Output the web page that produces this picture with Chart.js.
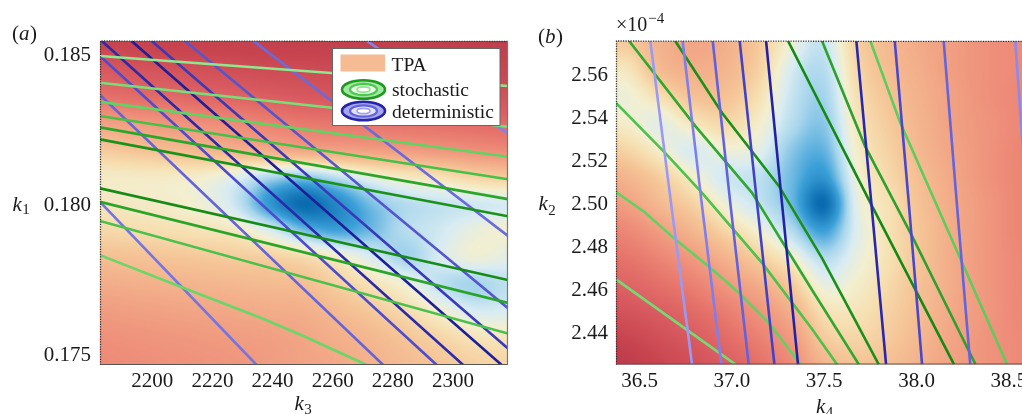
<!DOCTYPE html>
<html><head><meta charset="utf-8">
<script src="https://cdn.jsdelivr.net/npm/chart.js@4.4.1/dist/chart.umd.min.js"></script>
<style>
html,body{margin:0;padding:0;background:#fff;overflow:hidden;width:1022px;height:414px;}
#wa{position:absolute;left:0;top:0;width:520px;height:414px;}
#wb{position:absolute;left:520px;top:0;width:540px;height:414px;}
</style></head><body>
<div id="wa"><canvas id="ca"></canvas></div>
<div id="wb"><canvas id="cb"></canvas></div>
<script>
// ================= Panel (a): k3 vs k1 =================
const A_K3_RANGE = [2182.6, 2318.3];
const A_K1_RANGE = [0.17467, 0.18547];
const A_K3_TICKS = [2200, 2220, 2240, 2260, 2280, 2300];
const A_K1_TICKS = [0.175, 0.180, 0.185];
// TPA density grid (0 = low / red, 1 = peak / deep blue)
const A_HEAT_K3 = [2182.6, 2193.9, 2205.2, 2216.5, 2227.8, 2239.1, 2250.5, 2261.8, 2273.1, 2284.4, 2295.7, 2307.0, 2318.3];
const A_HEAT_K1 = [0.18547, 0.18457, 0.18367, 0.18277, 0.18187, 0.18097, 0.18007, 0.17917, 0.17827, 0.17737, 0.17647, 0.17557, 0.17467];
const A_HEAT = [
  [0.10,0.10,0.09,0.09,0.09,0.08,0.08,0.08,0.07,0.07,0.07,0.07,0.07],
  [0.20,0.18,0.17,0.16,0.15,0.14,0.14,0.13,0.12,0.12,0.11,0.11,0.11],
  [0.30,0.28,0.27,0.25,0.24,0.22,0.20,0.19,0.18,0.18,0.17,0.17,0.17],
  [0.47,0.45,0.43,0.41,0.39,0.36,0.33,0.32,0.31,0.30,0.29,0.28,0.27],
  [0.60,0.58,0.56,0.54,0.52,0.50,0.48,0.47,0.46,0.45,0.43,0.41,0.39],
  [0.69,0.69,0.69,0.70,0.74,0.80,0.83,0.78,0.72,0.68,0.66,0.62,0.60],
  [0.68,0.69,0.70,0.72,0.78,0.92,1.00,0.94,0.85,0.80,0.78,0.77,0.76],
  [0.64,0.65,0.66,0.67,0.69,0.76,0.86,0.90,0.86,0.80,0.77,0.73,0.71],
  [0.57,0.58,0.59,0.60,0.61,0.62,0.65,0.70,0.76,0.82,0.76,0.72,0.74],
  [0.51,0.52,0.53,0.54,0.55,0.56,0.57,0.62,0.67,0.72,0.79,0.82,0.79],
  [0.46,0.47,0.48,0.49,0.50,0.51,0.52,0.56,0.60,0.65,0.71,0.76,0.76],
  [0.42,0.43,0.44,0.45,0.46,0.47,0.49,0.52,0.55,0.59,0.63,0.67,0.68],
  [0.40,0.41,0.42,0.43,0.44,0.46,0.48,0.50,0.53,0.56,0.59,0.62,0.63]
];
// contour lines [k3, k1]
const A_STOCHASTIC = [
  [[2182.6,0.18497],[2318.3,0.18397]],
  [[2182.6,0.18408],[2318.3,0.18261]],
  [[2182.6,0.18344],[2318.3,0.18161]],
  [[2182.6,0.18297],[2318.3,0.18086]],
  [[2182.6,0.18259],[2318.3,0.18020]],
  [[2182.6,0.18219],[2318.3,0.17963]],
  [[2182.6,0.18056],[2318.3,0.17750]],
  [[2182.6,0.18011],[2318.3,0.17674]],
  [[2182.6,0.17947],[2318.3,0.17572]],
  [[2182.6,0.17833],[2209.8,0.17726],[2236.4,0.17623],[2250.8,0.17561],[2271.3,0.17467]]
];
const A_DETERMINISTIC = [
  [[2182.6,0.18011],[2234.7,0.17467]],
  [[2182.6,0.18367],[2276.8,0.17467]],
  [[2182.6,0.18497],[2294.6,0.17467]],
  [[2183.2,0.18547],[2303.4,0.17467]],
  [[2193.1,0.18547],[2316.2,0.17467]],
  [[2199.8,0.18547],[2318.3,0.17522]],
  [[2210.9,0.18547],[2318.3,0.17656]],
  [[2233.6,0.18547],[2318.3,0.17897]],
  [[2271.3,0.18547],[2318.3,0.18239]]
];

// ================= Panel (b): k4 vs k2 (x10^-4) =================
const B_K4_RANGE = [36.372, 38.723];
const B_K2_RANGE = [2.4256, 2.5758];
const B_K4_TICKS = [36.5, 37.0, 37.5, 38.0, 38.5];
const B_K2_TICKS = [2.44, 2.46, 2.48, 2.50, 2.52, 2.54, 2.56];
const B_HEAT_K4 = [36.249, 36.428, 36.607, 36.785, 36.964, 37.143, 37.321, 37.500, 37.679, 37.858, 38.036, 38.215, 38.394, 38.572, 38.751];
const B_HEAT_K2 = [2.5752, 2.5627, 2.5502, 2.5376, 2.5251, 2.5125, 2.5000, 2.4875, 2.4749, 2.4624, 2.4498, 2.4373, 2.4248];
const B_HEAT = [
  [0.58,0.60,0.53,0.49,0.52,0.60,0.72,0.78,0.62,0.55,0.50,0.46,0.42,0.40,0.39],
  [0.66,0.68,0.56,0.52,0.54,0.62,0.76,0.80,0.64,0.56,0.51,0.46,0.42,0.40,0.39],
  [0.71,0.72,0.66,0.58,0.58,0.66,0.78,0.82,0.66,0.58,0.52,0.47,0.42,0.39,0.38],
  [0.70,0.70,0.74,0.68,0.64,0.70,0.80,0.84,0.68,0.60,0.53,0.47,0.43,0.39,0.38],
  [0.60,0.63,0.70,0.76,0.72,0.74,0.84,0.87,0.70,0.62,0.54,0.48,0.43,0.38,0.37],
  [0.50,0.54,0.61,0.70,0.77,0.79,0.86,0.92,0.72,0.64,0.56,0.49,0.43,0.38,0.37],
  [0.43,0.47,0.55,0.62,0.72,0.78,0.86,1.00,0.74,0.66,0.57,0.50,0.44,0.38,0.37],
  [0.36,0.39,0.46,0.54,0.63,0.71,0.80,0.90,0.75,0.66,0.58,0.50,0.44,0.38,0.37],
  [0.29,0.32,0.38,0.45,0.53,0.61,0.70,0.80,0.73,0.66,0.58,0.50,0.44,0.39,0.38],
  [0.22,0.25,0.30,0.36,0.44,0.51,0.60,0.73,0.70,0.64,0.57,0.50,0.44,0.39,0.38],
  [0.15,0.18,0.22,0.28,0.35,0.43,0.52,0.66,0.67,0.62,0.56,0.49,0.44,0.39,0.38],
  [0.08,0.11,0.16,0.21,0.28,0.36,0.45,0.60,0.63,0.60,0.54,0.48,0.43,0.40,0.39],
  [0.02,0.05,0.11,0.16,0.22,0.30,0.40,0.54,0.58,0.57,0.52,0.47,0.43,0.40,0.39]
];
// contour lines [k4, k2]
const B_STOCHASTIC = [
  [[36.372,2.4651],[36.766,2.4411],[37.018,2.4257]],
  [[36.372,2.5057],[36.531,2.4961],[36.693,2.4837],[36.892,2.4698],[37.037,2.4589],[37.199,2.4450],[37.371,2.4257]],
  [[36.372,2.5471],[36.638,2.5239],[36.838,2.5053],[37.163,2.4728],[37.434,2.4421],[37.569,2.4257]],
  [[36.443,2.5758],[36.802,2.5363],[37.109,2.5053],[37.434,2.4602],[37.687,2.4257]],
  [[36.693,2.5758],[36.946,2.5425],[37.254,2.5085],[37.488,2.4750],[37.795,2.4257]],
  [[37.304,2.5758],[37.748,2.5010],[38.203,2.4257]],
  [[37.488,2.5758],[37.721,2.5270],[37.976,2.4852],[38.319,2.4257]],
  [[37.750,2.5758],[37.912,2.5378],[38.247,2.4728],[38.490,2.4257]]
];
const B_DETERMINISTIC = [
  [[36.558,2.5758],[36.670,2.5006],[36.784,2.4257]],
  [[36.733,2.5758],[36.836,2.5006],[36.943,2.4257]],
  [[36.896,2.5758],[36.991,2.5006],[37.091,2.4257]],
  [[37.042,2.5758],[37.136,2.5006],[37.230,2.4257]],
  [[37.185,2.5758],[37.271,2.5006],[37.358,2.4257]],
  [[37.674,2.5758],[37.755,2.5006],[37.835,2.4257]],
  [[37.882,2.5758],[37.958,2.5006],[38.030,2.4257]],
  [[38.147,2.5758],[38.218,2.5006],[38.291,2.4257]],
  [[38.535,2.5758],[38.658,2.4257]]
];

// ================= Styles =================
const SERIF = "'Liberation Serif','Times New Roman',Times,serif";
const TEXT = '#1a1a1a';
const A_GREEN = ['#8ee88e','#78de78','#62d262','#48c048','#2aa62a','#1a921a','#168b16','#2aa52a','#4cc04c','#6ad66a'];
const A_BLUE  = ['#7474e2','#6464da','#4c4cce','#2a2aaa','#1e1e9a','#3a3ab8','#5656cc','#6a6adc','#8282ea'];
const B_GREEN = ['#74da74','#62d062','#4cc24c','#30a830','#1a901a','#148a14','#2ea02e','#5ccc5c'];
const B_BLUE  = ['#9a9af5','#7e7eec','#6262de','#4242c6','#2222a8','#2828ac','#4848c8','#6464dc','#8a8aee'];
const CMAP_POS = [0, 0.11, 0.21, 0.31, 0.41, 0.50, 0.59, 0.66, 0.71, 0.76, 0.82, 0.90, 1.00];
const CMAP_COL = ['#b5354a','#c8454f','#d85a60','#e5726a','#ee8d79','#f2a987','#f5c597','#f6e0b2','#f3efd0','#d9ecf2','#a6d5ec','#3ca0d8','#0a6cb0'];

const CMAP_RGB = CMAP_COL.map(h => [parseInt(h.slice(1,3),16), parseInt(h.slice(3,5),16), parseInt(h.slice(5,7),16)]);
function cmap(v) {
  v = Math.max(0, Math.min(1, v));
  let k = 0;
  while (k < CMAP_POS.length - 2 && v > CMAP_POS[k+1]) k++;
  const t = (v - CMAP_POS[k]) / (CMAP_POS[k+1] - CMAP_POS[k]);
  const a = CMAP_RGB[k], b = CMAP_RGB[k+1];
  return [a[0]+(b[0]-a[0])*t, a[1]+(b[1]-a[1])*t, a[2]+(b[2]-a[2])*t];
}
function cr(p0,p1,p2,p3,t){ return p1 + 0.5*t*(p2-p0 + t*(2*p0-5*p1+4*p2-p3 + t*(3*(p1-p2)+p3-p0))); }
function sampleGrid(z, u, v) {
  const R = z.length, C = z[0].length;
  const at = (j,i) => z[Math.max(0,Math.min(R-1,j))][Math.max(0,Math.min(C-1,i))];
  const i = Math.floor(u), fu = u - i, j = Math.floor(v), fv = v - j;
  const r = [];
  for (let m = -1; m <= 2; m++) r.push(cr(at(j+m,i-1), at(j+m,i), at(j+m,i+1), at(j+m,i+2), fu));
  return cr(r[0], r[1], r[2], r[3], fv);
}

function makeHeat(xs, ys, z) {
  let cache = null;
  return { id: 'heat', beforeDatasetsDraw(chart) {
    const {ctx, chartArea: ca, scales} = chart;
    const sx = scales.x, sy = scales.y;
    const x0 = sx.getPixelForValue(xs[0]), x1 = sx.getPixelForValue(xs[xs.length-1]);
    const y0 = sy.getPixelForValue(ys[0]), y1 = sy.getPixelForValue(ys[ys.length-1]);
    const cw = (x1-x0)/(xs.length-1), ch = (y1-y0)/(ys.length-1);
    const L = Math.floor(ca.left), T = Math.floor(ca.top);
    const W = Math.ceil(ca.right) - L, H = Math.ceil(ca.bottom) - T;
    if (!cache || cache.w !== W || cache.h !== H) {
      const off = document.createElement('canvas'); off.width = W; off.height = H;
      const octx = off.getContext('2d'); const img = octx.createImageData(W, H);
      for (let py = 0; py < H; py++) {
        const v = (T + py + 0.5 - y0) / ch;
        for (let px = 0; px < W; px++) {
          const u = (L + px + 0.5 - x0) / cw;
          const c = cmap(sampleGrid(z, u, v));
          const k = (py*W + px) * 4;
          img.data[k] = c[0]; img.data[k+1] = c[1]; img.data[k+2] = c[2]; img.data[k+3] = 255;
        }
      }
      octx.putImageData(img, 0, 0);
      cache = {off, w: W, h: H};
    }
    ctx.save();
    ctx.beginPath(); ctx.rect(ca.left, ca.top, ca.right-ca.left, ca.bottom-ca.top); ctx.clip();
    ctx.drawImage(cache.off, L, T);
    ctx.restore();
  }};
}

function makeFrame(drawRight) {
  return { id: 'frame', afterDatasetsDraw(chart) {
    const {ctx, chartArea: ca} = chart;
    ctx.save();
    ctx.lineWidth = 1.3; ctx.strokeStyle = '#333'; ctx.setLineDash([1.2, 1.3]);
    ctx.beginPath(); ctx.moveTo(ca.left + 0.5, ca.bottom); ctx.lineTo(ca.left + 0.5, ca.top); ctx.lineTo(ca.right, ca.top + 0.5); ctx.stroke();
    ctx.setLineDash([]); ctx.lineWidth = 1.2; ctx.strokeStyle = '#555';
    ctx.beginPath(); ctx.moveTo(ca.left, ca.bottom - 0.5); ctx.lineTo(ca.right, ca.bottom - 0.5); ctx.stroke();
    if (drawRight) { ctx.strokeStyle = '#777'; ctx.beginPath(); ctx.moveTo(ca.right - 0.5, ca.top); ctx.lineTo(ca.right - 0.5, ca.bottom); ctx.stroke(); }
    ctx.restore();
  }};
}

function drawK(ctx, x, base, sub, subDy) {
  ctx.fillStyle = TEXT; ctx.textAlign = 'left'; ctx.textBaseline = 'alphabetic';
  ctx.font = 'italic 21px ' + SERIF; ctx.fillText('k', x, base);
  const w = ctx.measureText('k').width;
  ctx.font = '15px ' + SERIF; ctx.fillText(sub, x + w + 0.5, base + subDy);
}
function drawPanelLabel(ctx, x, base, letter) {
  ctx.fillStyle = TEXT; ctx.textAlign = 'left'; ctx.textBaseline = 'alphabetic';
  ctx.font = '21px ' + SERIF; ctx.fillText('(', x, base);
  let cx = x + ctx.measureText('(').width;
  ctx.font = 'italic 21px ' + SERIF; ctx.fillText(letter, cx, base);
  cx += ctx.measureText(letter).width + 0.5;
  ctx.font = '21px ' + SERIF; ctx.fillText(')', cx, base);
}
function ellipseIcon(ctx, cx, cy, cols) {
  const rings = [[21.5, 9.2, 2.6], [13.5, 5.6, 2.2], [6.5, 2.6, 1.6]];
  rings.forEach((r, i) => {
    ctx.beginPath(); ctx.ellipse(cx, cy, r[0], r[1], 0, 0, Math.PI*2);
    ctx.fillStyle = cols[i][1]; ctx.fill();
    ctx.lineWidth = r[2]; ctx.strokeStyle = cols[i][0]; ctx.stroke();
  });
}

const annotA = { id: 'annotA', afterDraw(chart) {
  const ctx = chart.ctx; ctx.save();
  drawPanelLabel(ctx, 12, 40, 'a');
  drawK(ctx, 12.5, 210.5, '1', 3.5);
  drawK(ctx, 294.5, 410, '3', 4);
  // legend box
  ctx.fillStyle = '#ffffff'; ctx.fillRect(332.5, 48.5, 167.5, 77);
  ctx.strokeStyle = '#666'; ctx.lineWidth = 1; ctx.strokeRect(332.5, 48.5, 167.5, 77);
  ctx.fillStyle = '#f5bc94'; ctx.fillRect(340.5, 54.5, 44.5, 17);
  ellipseIcon(ctx, 363.5, 89.5, [['#1f9a1f','#9fe89f'],['#4cc84c','#e6fae6'],['#8fe48f','#ffffff']]);
  ellipseIcon(ctx, 363.5, 111, [['#2424a6','#a6a6ee'],['#6262dc','#e2e2fb'],['#a0a0f0','#ffffff']]);
  ctx.fillStyle = TEXT; ctx.font = '19.5px ' + SERIF; ctx.textAlign = 'left'; ctx.textBaseline = 'alphabetic';
  ctx.fillText('TPA', 391.5, 71);
  ctx.fillText('stochastic', 392, 96);
  ctx.fillText('deterministic', 392, 117.5);
  ctx.restore();
}};
const annotB = { id: 'annotB', afterDraw(chart) {
  const ctx = chart.ctx; ctx.save();
  drawPanelLabel(ctx, 18, 43, 'b');
  drawK(ctx, 18.5, 210, '2', 4.5);
  drawK(ctx, 296, 413, '4', 4);
  ctx.fillStyle = TEXT; ctx.textAlign = 'left'; ctx.textBaseline = 'alphabetic';
  ctx.font = '20px ' + SERIF; ctx.fillText('\u00d710', 96, 31);
  const w = ctx.measureText('\u00d710').width;
  ctx.font = '15px ' + SERIF; ctx.fillText('\u22124', 96 + w + 1, 23);
  ctx.restore();
}};

function lineSets(lines, colors, width) {
  return lines.map((pts, i) => ({
    data: pts.map(p => ({x: p[0], y: p[1]})),
    showLine: true, borderColor: colors[i], backgroundColor: colors[i],
    borderWidth: width, pointRadius: 0, pointHoverRadius: 0, fill: false, tension: 0, clip: 0
  }));
}
function axis(range, ticks, fmt, isX, size, pad) {
  return {
    type: 'linear', min: range[0], max: range[1],
    afterBuildTicks: s => { s.ticks = ticks.map(v => ({value: v})); },
    afterFit: s => { if (isX) s.height = size; else s.width = size; },
    grid: {display: false, drawTicks: false}, border: {display: false},
    ticks: {autoSkip: false, maxRotation: 0, padding: pad, color: TEXT,
            font: {family: SERIF, size: 21}, callback: v => fmt(v)}
  };
}
Chart.defaults.animation = false;

new Chart(document.getElementById('ca'), {
  type: 'scatter',
  data: {datasets: [...lineSets(A_STOCHASTIC, A_GREEN, 2.6), ...lineSets(A_DETERMINISTIC, A_BLUE, 2.6)]},
  options: {
    responsive: true, maintainAspectRatio: false, devicePixelRatio: 1, animation: false,
    layout: {padding: {left: 0, right: 12, top: 41, bottom: 0}},
    plugins: {legend: {display: false}, tooltip: {enabled: false}},
    scales: {
      x: axis(A_K3_RANGE, A_K3_TICKS, v => String(Math.round(v)), true, 49, 4),
      y: axis(A_K1_RANGE, A_K1_TICKS, v => v.toFixed(3), false, 100, 9)
    }
  },
  plugins: [makeHeat(A_HEAT_K3, A_HEAT_K1, A_HEAT), makeFrame(true), annotA]
});

new Chart(document.getElementById('cb'), {
  type: 'scatter',
  data: {datasets: [...lineSets(B_DETERMINISTIC, B_BLUE, 2.6), ...lineSets(B_STOCHASTIC, B_GREEN, 2.6)]},
  options: {
    responsive: true, maintainAspectRatio: false, devicePixelRatio: 1, animation: false,
    layout: {padding: {left: 0, right: 10, top: 41, bottom: 0}},
    plugins: {legend: {display: false}, tooltip: {enabled: false}},
    scales: {
      x: axis(B_K4_RANGE, B_K4_TICKS, v => v.toFixed(1), true, 49.5, 4),
      y: axis(B_K2_RANGE, B_K2_TICKS, v => v.toFixed(2), false, 96, 8)
    }
  },
  plugins: [makeHeat(B_HEAT_K4, B_HEAT_K2, B_HEAT), makeFrame(false), annotB]
});
</script>
</body></html>
